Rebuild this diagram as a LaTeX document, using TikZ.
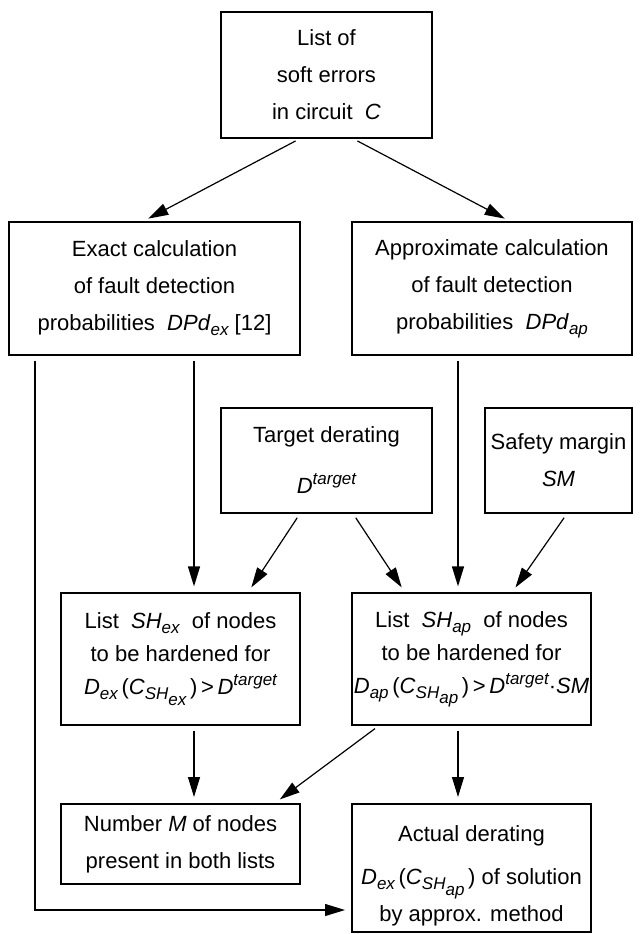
\documentclass[tikz,border=0pt]{standalone}
\usepackage{fontspec}
\setmainfont{Liberation Sans}
\usetikzlibrary{arrows.meta}
\newcommand{\lo}[1]{\raisebox{-2.6pt}{\fontsize{8.5}{8.5}\selectfont\itshape #1}}
\newcommand{\hi}[1]{\raisebox{4.5pt}{\fontsize{8.5}{8.5}\selectfont\itshape #1}}
\tikzset{
  box/.style={draw, line width=0.6pt, align=center, inner sep=0pt, font=\fontsize{11}{18.5}\selectfont},
  thickbox/.style={box, line width=1pt},
  arr/.style={-{Triangle[length=10pt,width=6pt]}, line width=0.6pt, shorten <=2.5pt, shorten >=3pt}
}
\begin{document}
\begin{tikzpicture}[x=0.5pt,y=-0.5pt]
    \useasboundingbox (0,0) rectangle (641,934);
    \node[box, minimum width=105.5pt, minimum height=63pt] (errors) at (326.5,75) {List of\\soft errors\\in circuit\ \ \textit{C}};
    \node[box, minimum width=145.5pt, minimum height=66.5pt] (exact) at (154.5,288.5) {Exact calculation\\of fault detection\\probabilities\ \ \textit{DPd}\lo{ex} [12]};
    \node[box, minimum width=140pt, minimum height=66.5pt] (approx) at (492,288.5) {Approximate calculation\\of fault detection\\probabilities\ \ \textit{DPd}\lo{ap}};
    \node[box, minimum width=105.5pt, minimum height=52.5pt] (target) at (326.5,460.5) {Target derating\\[7pt]\textit{D}\hi{target}};
    \node[box, minimum width=73.5pt, minimum height=52.5pt] (safety) at (558.5,460.5) {Safety margin\\\textit{SM}};
    \node[box, minimum width=119.5pt, minimum height=66pt, font=\fontsize{11}{16.5}\selectfont] (shex) at (180.5,659) {List\ \ \textit{SH}\lo{ex}\ \ of nodes\\to be hardened for\\\textit{D}\lo{ex}\,(\textit{C}\lo{SH\lo{ex}}\,)\,>\,\textit{D}\hi{target}};
    \node[box, minimum width=119.5pt, minimum height=66pt, font=\fontsize{11}{16.5}\selectfont] (shap) at (471.5,659) {List\ \ \textit{SH}\lo{ap}\ \ of nodes\\to be hardened for\\\textit{D}\lo{ap}\,(\textit{C}\lo{SH\lo{ap}}\,)\,>\,\textit{D}\hi{target}·\textit{SM}};
    \node[thickbox, minimum width=119.5pt, minimum height=40pt] (number) at (180.5,844) {Number \textit{M} of nodes\\present in both lists};
    \node[thickbox, minimum width=119.5pt, minimum height=64pt] (actual) at (471.5,868) {\rule{0pt}{16pt}Actual derating\\[3pt]\textit{D}\lo{ex}\,(\textit{C}\lo{SH\lo{ap}}\,) of solution\\by approx. method};
    \draw[arr] ([xshift=-13.25pt]errors.south) -- ([xshift=-5.75pt]exact.north);
    \draw[arr] ([xshift=13.25pt]errors.south) -- ([xshift=9pt]approx.north);
    \coordinate (exin) at ([xshift=6.75pt]shex.north);
    \draw[arr] (exact.south -| exin) -- (exin);
    \coordinate (apin) at ([xshift=-6.75pt]shap.north);
    \draw[arr] (approx.south -| apin) -- (apin);
    \draw[arr] ([xshift=-13.25pt]target.south) -- ([xshift=33.75pt]shex.north);
    \draw[arr] ([xshift=13.25pt]target.south) -- ([xshift=-33.25pt]shap.north);
    \draw[arr] ([xshift=4.25pt]safety.south) -- ([xshift=20.25pt]shap.north);
    \draw[arr] ([xshift=6.75pt]shex.south) -- ([xshift=6.75pt]number.north);
    \draw[arr] ([xshift=-46.25pt]shap.south) -- ([xshift=47.25pt]number.north);
    \draw[arr] ([xshift=-6.75pt]shap.south) -- ([xshift=-6.75pt]actual.north);
    \draw[arr] ([xshift=-59.75pt]exact.south) |- ([yshift=-21pt]actual.west);
\end{tikzpicture}
\end{document}
